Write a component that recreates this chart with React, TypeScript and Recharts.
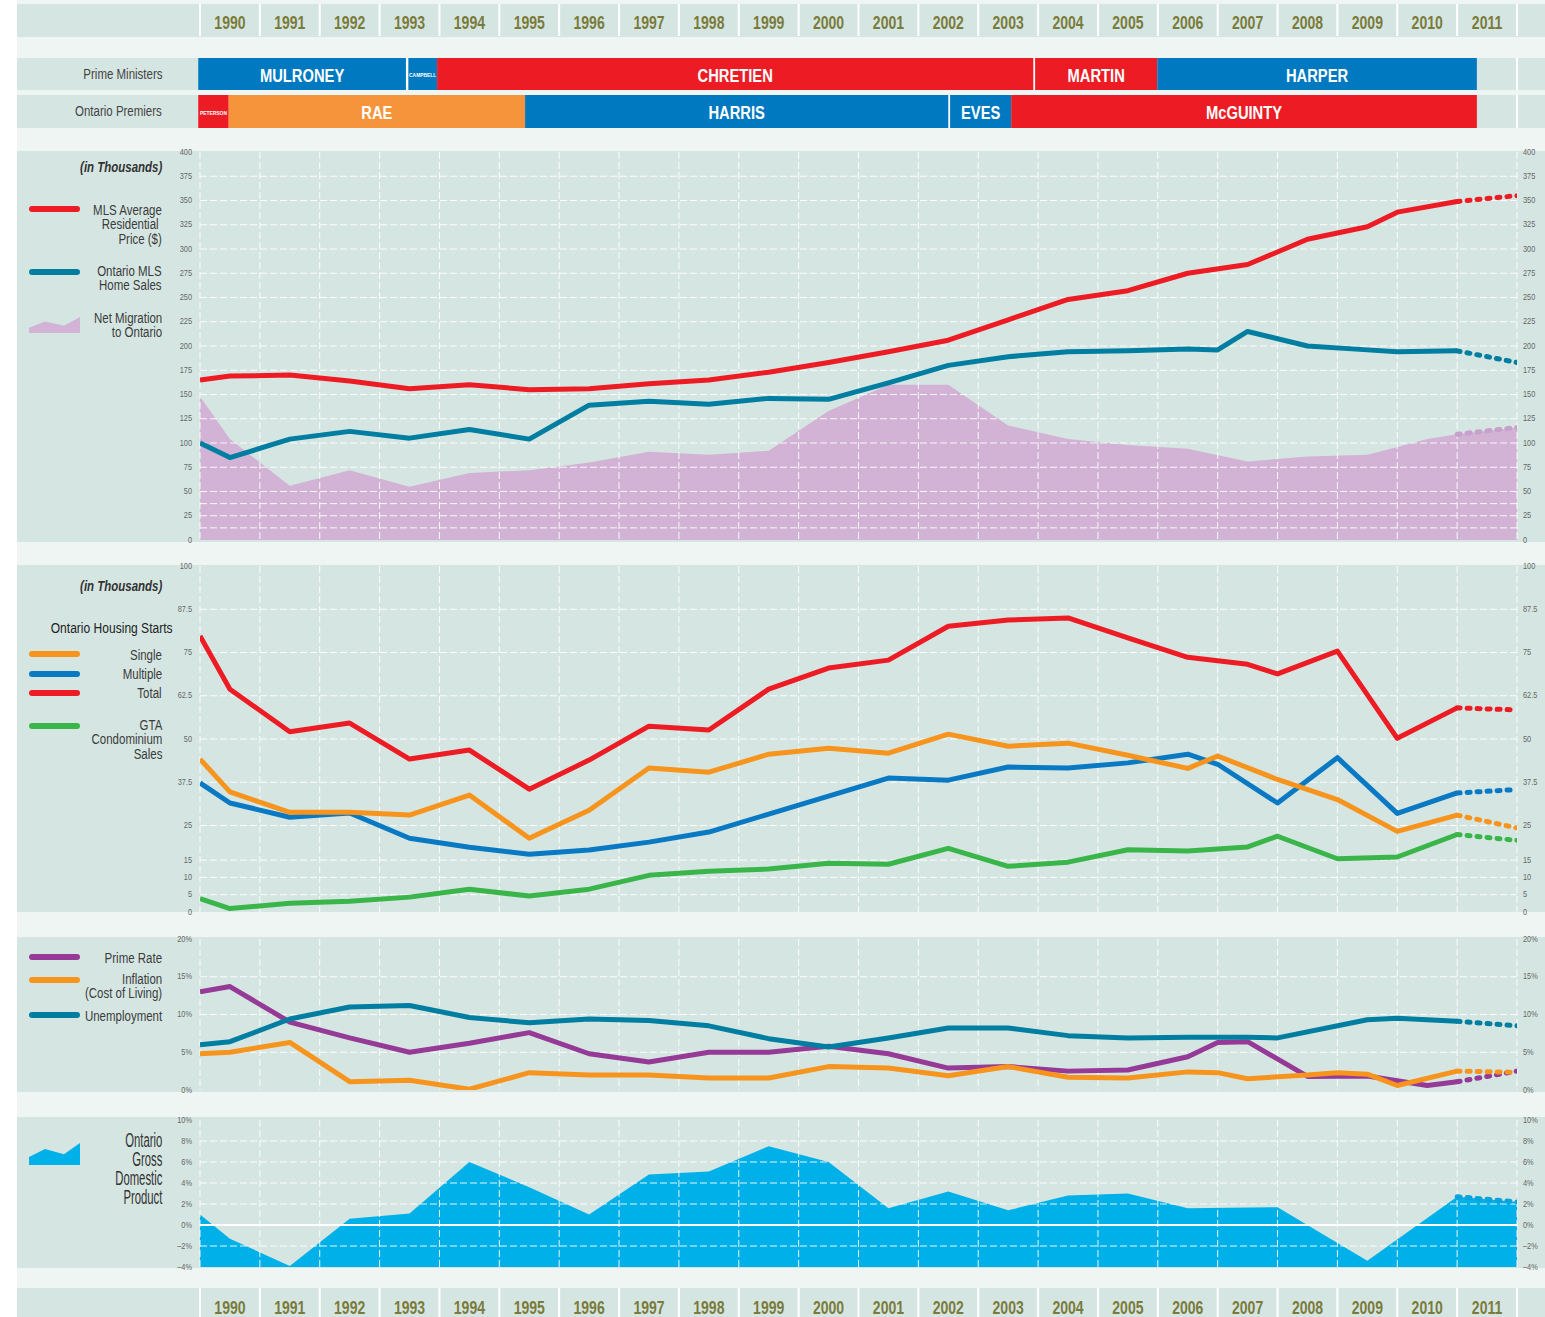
import React from "react";
import {
  Area,
  CartesianGrid,
  ComposedChart,
  Line,
  ReferenceArea,
  ReferenceLine,
  XAxis,
  YAxis,
} from "recharts";

// Liberation Sans squeezed horizontally stands in for the condensed face of the original
const FONT = "'Liberation Sans', Arial, sans-serif";
const NARROW = 0.82;
const PAGE_W = 1545;
const PAGE_H = 1317;
const PLOT_L = 200;
const PLOT_R = 1517;
const AXIS_W = 24;
const PAD = 10;

const PAGE_BG = "#eef5f2";
const PANEL_BG = "#d5e6e2";
const YEAR_COLOR = "#7a7b3b";
const TICK_COLOR = "#666";
const TEXT_COLOR = "#3b3b3b";

const RED = "#ed1c24";
const TEAL = "#007ea1";
const BLUE = "#0a79c3";
const ORANGE = "#f7941d";
const GREEN = "#3ab54a";
const PURPLE = "#953a96";
const MIGRATION_FILL = "#d2b3d5";
const MIGRATION_DOT = "#c7a1cb";
const GDP_FILL = "#00b0e8";
const GDP_DOT = "#0aa3dc";

const PARTY_COLORS: Record<string, string> = {
  LIB: "#ed1c24",
  PC: "#0079c1",
  CON: "#0079c1",
  NDP: "#f6943b",
};

// ---- time axis ----
const YEARS = [
  1990, 1991, 1992, 1993, 1994, 1995, 1996, 1997, 1998, 1999, 2000,
  2001, 2002, 2003, 2004, 2005, 2006, 2007, 2008, 2009, 2010, 2011,
];
const YEAR_EDGES = [...YEARS, 2012];
const YEAR_CENTERS = YEARS.map((y) => y + 0.5);
const FORECAST_X = [2011, 2012];

// ---- terms of office ----
const PM_NAMES = ["MULRONEY", "CAMPBELL", "CHRETIEN", "MARTIN", "HARPER"];
const PM_FROM = [1989.97, 1993.48, 1993.96, 2003.95, 2005.99];
const PM_TO = [1993.44, 1993.96, 2003.92, 2005.99, 2011.33];
const PM_PARTY = ["PC", "PC", "LIB", "LIB", "CON"];

const PREMIER_NAMES = ["PETERSON", "RAE", "HARRIS", "EVES", "McGUINTY"];
const PREMIER_FROM = [1989.97, 1990.48, 1995.43, 2002.53, 2003.55];
const PREMIER_TO = [1990.48, 1995.43, 2002.5, 2003.55, 2011.33];
const PREMIER_PARTY = ["LIB", "NDP", "PC", "PC", "LIB"];

// ---- panel 1: prices, sales, migration (thousands) ----
const PRICE_X = [1990, 1990.5, 1991.5, 1992.5, 1993.5, 1994.5, 1995.5, 1996.5, 1997.5, 1998.5, 1999.5, 2000.5, 2001.5, 2002.5, 2003.5, 2004.5, 2005.5, 2006.5, 2007.5, 2008.5, 2009.5, 2010, 2011];
const PRICE = [165, 169, 170, 164, 156, 160, 155, 156, 161, 165, 173, 183, 194, 206, 227, 248, 257, 275, 284, 310, 323, 338, 349];
const PRICE_FORECAST = [349, 355];

const SALES_X = [1990, 1990.5, 1991.5, 1992.5, 1993.5, 1994.5, 1995.5, 1996.5, 1997.5, 1998.5, 1999.5, 2000.5, 2001.5, 2002.5, 2003.5, 2004.5, 2005.5, 2006.5, 2007, 2007.5, 2008.5, 2009.5, 2010, 2011];
const SALES = [100, 85, 104, 112, 105, 114, 104, 139, 143, 140, 146, 145, 162, 180, 189, 194, 195, 197, 196, 215, 200, 196, 194, 195];
const SALES_FORECAST = [195, 183];

const MIGRATION_X = [1990, 1990.5, 1991.5, 1992.5, 1993.5, 1994.5, 1995.5, 1996.5, 1997.5, 1998.5, 1999.5, 2000.5, 2001.5, 2002.5, 2003.5, 2004.5, 2005.5, 2006.5, 2007.5, 2008.5, 2009.5, 2010, 2010.5, 2011, 2012];
const MIGRATION = [148, 104, 56, 72, 55, 69, 72, 80, 91, 88, 92, 133, 160, 160, 118, 104, 98, 94, 81, 86, 88, 96, 104, 109, 116];
const MIGRATION_FORECAST = [109, 116];

// ---- panel 2: housing starts (thousands) ----
const TOTAL_X = [1990, 1990.5, 1991.5, 1992.5, 1993.5, 1994.5, 1995.5, 1996.5, 1997.5, 1998.5, 1999.5, 2000.5, 2001.5, 2002.5, 2003.5, 2004.5, 2005.5, 2006.5, 2007.5, 2008, 2009, 2010, 2011];
const TOTAL = [79.8, 64.4, 52.1, 54.6, 44.2, 46.8, 35.5, 43.9, 53.7, 52.6, 64.4, 70.5, 72.8, 82.6, 84.4, 85.0, 79.2, 73.6, 71.6, 68.8, 75.4, 50.2, 59.0];
const TOTAL_FORECAST = [59.0, 58.4];

const SINGLE_X = [1990, 1990.5, 1991.5, 1992.5, 1993.5, 1994.5, 1995.5, 1996.5, 1997.5, 1998.5, 1999.5, 2000.5, 2001.5, 2002.5, 2003.5, 2004.5, 2005.5, 2006.5, 2007, 2008, 2009, 2010, 2011];
const SINGLE = [44.2, 34.7, 28.8, 28.8, 28.0, 33.8, 21.3, 29.4, 41.6, 40.4, 45.6, 47.3, 45.9, 51.4, 47.9, 48.8, 45.3, 41.5, 45.1, 38.3, 32.5, 23.3, 28.0];
const SINGLE_FORECAST = [28.0, 24.3];

const MULTIPLE_X = [1990, 1990.5, 1991.5, 1992.5, 1993.5, 1994.5, 1995.5, 1996.5, 1997.5, 1998.5, 1999.5, 2000.5, 2001.5, 2002.5, 2003.5, 2004.5, 2005.5, 2006.5, 2007, 2008, 2009, 2010, 2011];
const MULTIPLE = [37.3, 31.5, 27.4, 28.6, 21.3, 18.7, 16.7, 17.9, 20.2, 23.1, 28.3, 33.5, 38.7, 38.1, 41.9, 41.6, 43.1, 45.6, 42.7, 31.5, 44.6, 28.5, 34.4];
const MULTIPLE_FORECAST = [34.4, 35.4];

const CONDO_X = [1990, 1990.5, 1991.5, 1992.5, 1993.5, 1994.5, 1995.5, 1996.5, 1997.5, 1998.5, 1999.5, 2000.5, 2001.5, 2002.5, 2003.5, 2004.5, 2005.5, 2006.5, 2007.5, 2008, 2009, 2010, 2011];
const CONDO = [3.9, 1.0, 2.5, 3.1, 4.3, 6.6, 4.6, 6.6, 10.6, 11.8, 12.4, 14.1, 13.8, 18.4, 13.2, 14.4, 18.0, 17.6, 18.8, 21.9, 15.4, 15.9, 22.4];
const CONDO_FORECAST = [22.4, 20.7];

// ---- panel 3: rates (%) ----
const PRIME_X = [1990, 1990.5, 1991.5, 1992.5, 1993.5, 1994.5, 1995.5, 1996.5, 1997.5, 1998.5, 1999.5, 2000.5, 2001.5, 2002.5, 2003.5, 2004.5, 2005.5, 2006.5, 2007, 2007.5, 2008.5, 2009.5, 2010.5, 2011];
const PRIME = [13.0, 13.7, 9.0, 6.9, 5.0, 6.2, 7.6, 4.8, 3.7, 5.0, 5.0, 5.8, 4.8, 2.9, 3.1, 2.5, 2.65, 4.4, 6.3, 6.4, 1.8, 1.85, 0.6, 1.1];
const PRIME_FORECAST = [1.1, 2.5];

const INFLATION_X = [1990, 1990.5, 1991.5, 1992.5, 1993.5, 1994.5, 1995.5, 1996.5, 1997.5, 1998.5, 1999.5, 2000.5, 2001.5, 2002.5, 2003.5, 2004.5, 2005.5, 2006.5, 2007, 2007.5, 2008.5, 2009, 2009.5, 2010, 2011];
const INFLATION = [4.8, 5.0, 6.3, 1.1, 1.3, 0.1, 2.3, 2.0, 2.0, 1.6, 1.6, 3.1, 2.9, 1.9, 3.1, 1.7, 1.6, 2.4, 2.3, 1.5, 2.0, 2.3, 2.1, 0.6, 2.5];
const INFLATION_FORECAST = [2.5, 2.35];

const UNEMP_X = [1990, 1990.5, 1991.5, 1992.5, 1993.5, 1994.5, 1995.5, 1996.5, 1997.5, 1998.5, 1999.5, 2000.5, 2001.5, 2002.5, 2003.5, 2004.5, 2005.5, 2006.5, 2007.5, 2008, 2009.5, 2010, 2011];
const UNEMP = [6.0, 6.4, 9.4, 11.0, 11.2, 9.6, 8.9, 9.4, 9.2, 8.5, 6.8, 5.7, 6.9, 8.2, 8.2, 7.2, 6.9, 7.0, 7.0, 6.9, 9.3, 9.5, 9.1];
const UNEMP_FORECAST = [9.1, 8.5];

// ---- panel 4: GDP growth (%) ----
const GDP_X = [1990, 1990.5, 1991.5, 1992.5, 1993.5, 1994.5, 1995.5, 1996.5, 1997.5, 1998.5, 1999.5, 2000.5, 2001.5, 2002.5, 2003.5, 2004.5, 2005.5, 2006.5, 2008, 2009.5, 2011, 2012];
const GDP = [1.0, -1.3, -3.9, 0.6, 1.1, 6.0, 3.6, 1.0, 4.8, 5.1, 7.5, 6.0, 1.6, 3.2, 1.4, 2.8, 3.0, 1.6, 1.7, -3.4, 2.7, 2.2];
const GDP_FORECAST = [2.7, 2.2];

// ---- axis ticks ----
const TICKS_1 = [0, 25, 50, 75, 100, 125, 150, 175, 200, 225, 250, 275, 300, 325, 350, 375, 400];
const GRID_1 = [12.5, 25, 37.5, 50, 75, 100, 125, 150, 175, 200, 225, 250, 275, 300, 325, 350, 375];
const TICKS_2 = [0, 5, 10, 15, 25, 37.5, 50, 62.5, 75, 87.5, 100];
const GRID_2 = [5, 10, 15, 25, 37.5, 50, 62.5, 75, 87.5];
const TICKS_3 = [0, 5, 10, 15, 20];
const GRID_3 = [5, 10, 15];
const TICKS_4 = [-4, -2, 0, 2, 4, 6, 8, 10];
const GRID_4 = [-2, 2, 4, 6, 8];

const pts = (xs: number[], ys: number[]) => xs.map((x, i) => ({ x, y: ys[i] }));
const plain = (v: number) => String(v);
const pct = (v: number) => (v < 0 ? `\u2013${-v}%` : `${v}%`);

const makeTick = (format: (v: number) => string) => (props: any) => (
  <text
    transform={`translate(${props.x},${props.y}) scale(${NARROW},1)`}
    textAnchor={props.textAnchor}
    dominantBaseline="central"
    fontSize={9}
    fill={TICK_COLOR}
    fontFamily={FONT}
  >
    {format(props.payload.value)}
  </text>
);

type PlotProps = {
  top: number;
  height: number;
  domain: [number, number];
  ticks: number[];
  format: (v: number) => string;
  withAxes?: boolean;
  children: React.ReactNode;
};

function Plot({ top, height, domain, ticks, format, withAxes = true, children }: PlotProps) {
  const side = withAxes ? AXIS_W : 0;
  const tick = makeTick(format);
  return (
    <div style={{ position: "absolute", left: 0, top: top - PAD }}>
      <ComposedChart
        width={PAGE_W}
        height={height + PAD * 2}
        margin={{ top: PAD, bottom: PAD, left: PLOT_L - side, right: PAGE_W - PLOT_R - side }}
      >
        <XAxis type="number" dataKey="x" domain={[1990, 2012]} ticks={YEAR_EDGES} hide allowDataOverflow />
        <YAxis
          domain={domain}
          ticks={ticks}
          hide={!withAxes}
          width={AXIS_W}
          axisLine={false}
          tickLine={false}
          tickSize={6}
          tickMargin={2}
          tick={tick}
          interval={0}
          allowDataOverflow
        />
        {withAxes && (
          <YAxis
            yAxisId="r"
            orientation="right"
            domain={domain}
            ticks={ticks}
            width={AXIS_W}
            axisLine={false}
            tickLine={false}
            tickSize={4}
            tickMargin={2}
            tick={tick}
            interval={0}
            allowDataOverflow
          />
        )}
        {children}
      </ComposedChart>
    </div>
  );
}

function Grid({ values }: { values: number[] }) {
  return (
    <CartesianGrid
      stroke="#ffffff"
      strokeOpacity={0.9}
      strokeDasharray="7 3"
      horizontalValues={values}
      verticalValues={YEAR_EDGES}
    />
  );
}

function solid(xs: number[], ys: number[], color: string, key: string) {
  return (
    <Line
      key={key}
      type="linear"
      data={pts(xs, ys)}
      dataKey="y"
      stroke={color}
      strokeWidth={5}
      strokeLinejoin="round"
      dot={false}
      activeDot={false}
      isAnimationActive={false}
    />
  );
}

function dotted(values: number[], color: string, key: string) {
  return (
    <Line
      key={key}
      type="linear"
      data={pts(FORECAST_X, values)}
      dataKey="y"
      stroke={color}
      strokeWidth={5}
      strokeDasharray="3 7"
      strokeLinecap="round"
      dot={false}
      activeDot={false}
      isAnimationActive={false}
    />
  );
}

function Panel({ top, height }: { top: number; height: number }) {
  return (
    <div style={{ position: "absolute", left: 17, top, width: PAGE_W - 17, height, background: PANEL_BG }} />
  );
}

type CaptionProps = {
  right?: number;
  y: number;
  lines: string[];
  size?: number;
  lh?: number;
  squeeze?: number;
  color?: string;
  style?: React.CSSProperties;
};

function Caption({ right = 162, y, lines, size = 14, lh = 14.5, squeeze = NARROW, color = TEXT_COLOR, style }: CaptionProps) {
  return (
    <div
      style={{
        position: "absolute",
        right: PAGE_W - right,
        top: y - lh / 2,
        fontSize: size,
        lineHeight: `${lh}px`,
        textAlign: "right",
        color,
        whiteSpace: "pre",
        fontFamily: FONT,
        transform: `scaleX(${squeeze})`,
        transformOrigin: "right center",
        ...style,
      }}
    >
      {lines.join("\n")}
    </div>
  );
}

function LineSwatch({ y, color }: { y: number; color: string }) {
  return (
    <div style={{ position: "absolute", left: 29, top: y - 3, width: 51, height: 6, borderRadius: 3, background: color }} />
  );
}

function AreaSwatch({ top, h, points, color }: { top: number; h: number; points: string; color: string }) {
  return (
    <svg style={{ position: "absolute", left: 29, top }} width={51} height={h}>
      <polygon points={points} fill={color} />
    </svg>
  );
}

function YearBand({ top, height, textY }: { top: number; height: number; textY: number }) {
  const renderTick = (props: any) => (
    <text
      transform={`translate(${props.x},${textY}) scale(0.78,1)`}
      textAnchor="middle"
      dominantBaseline="central"
      fill={YEAR_COLOR}
      fontSize={18}
      fontWeight={700}
      fontFamily={FONT}
    >
      {Math.floor(props.payload.value)}
    </text>
  );
  return (
    <>
      <Panel top={top} height={height} />
      <div style={{ position: "absolute", left: 0, top }}>
        <ComposedChart
          width={PAGE_W}
          height={height}
          margin={{ top: 0, bottom: 0, left: PLOT_L, right: PAGE_W - PLOT_R }}
        >
          <XAxis
            type="number"
            dataKey="x"
            domain={[1990, 2012]}
            ticks={YEAR_CENTERS}
            interval={0}
            height={1}
            axisLine={false}
            tickLine={false}
            tick={renderTick}
            allowDataOverflow
          />
          <YAxis hide domain={[0, 1]} allowDataOverflow />
          <CartesianGrid horizontal={false} verticalValues={YEAR_EDGES} stroke="#ffffff" strokeWidth={2} />
        </ComposedChart>
      </div>
    </>
  );
}

type TermRowProps = {
  top: number;
  height: number;
  label: string;
  names: string[];
  from: number[];
  to: number[];
  parties: string[];
};

function TermRow({ top, height, label, names, from, to, parties }: TermRowProps) {
  return (
    <>
      <Panel top={top} height={height} />
      <Caption y={top + height / 2} lines={[label]} color="#444" />
      <div style={{ position: "absolute", left: 0, top }}>
        <ComposedChart
          width={PAGE_W}
          height={height}
          margin={{ top: 0, bottom: 0, left: PLOT_L, right: PAGE_W - PLOT_R }}
        >
          <XAxis type="number" dataKey="x" domain={[1990, 2012]} hide allowDataOverflow />
          <YAxis type="number" hide domain={[0, 1]} allowDataOverflow />
          <CartesianGrid horizontal={false} verticalValues={YEAR_EDGES} stroke="#ffffff" strokeWidth={2} />
          <ReferenceArea
            x1={from[0]}
            x2={to[to.length - 1]}
            y1={0}
            y2={1}
            fill="#ffffff"
            fillOpacity={1}
            ifOverflow="visible"
          />
          {names.map((name, i) => {
            const small = to[i] - from[i] < 0.8;
            return (
              <ReferenceArea
                key={name}
                x1={from[i]}
                x2={to[i]}
                y1={0}
                y2={1}
                fill={PARTY_COLORS[parties[i]]}
                fillOpacity={1}
                ifOverflow="visible"
                label={{
                  content: (p: any) => {
                    const vb = p.viewBox || {};
                    return (
                      <text
                        transform={`translate(${vb.x + vb.width / 2},${vb.y + vb.height / 2 + 1}) scale(${NARROW},1)`}
                        textAnchor="middle"
                        dominantBaseline="central"
                        fill="#ffffff"
                        fontSize={small ? 6 : 18}
                        fontWeight={700}
                        fontFamily={FONT}
                      >
                        {name}
                      </text>
                    );
                  },
                }}
              />
            );
          })}
        </ComposedChart>
      </div>
    </>
  );
}

export default function App() {
  return (
    <div
      style={{
        position: "absolute",
        left: 0,
        top: 0,
        width: PAGE_W,
        height: PAGE_H,
        background: "#ffffff",
        overflow: "hidden",
        fontFamily: FONT,
      }}
    >
      <div style={{ position: "absolute", left: 17, top: 0, width: PAGE_W - 17, height: PAGE_H, background: PAGE_BG }} />

      <YearBand top={4} height={33} textY={18} />
      <TermRow top={58} height={32} label="Prime Ministers" names={PM_NAMES} from={PM_FROM} to={PM_TO} parties={PM_PARTY} />
      <TermRow top={95} height={33} label="Ontario Premiers" names={PREMIER_NAMES} from={PREMIER_FROM} to={PREMIER_TO} parties={PREMIER_PARTY} />

      {/* Panel 1 */}
      <Panel top={151} height={391} />
      <Caption y={167} lines={["(in Thousands)"]} style={{ fontStyle: "italic", fontWeight: 700, color: "#333" }} />
      <LineSwatch y={209} color={RED} />
      <Caption y={210} lines={["MLS Average", "Residential ", "Price ($)"]} />
      <LineSwatch y={272} color={TEAL} />
      <Caption y={271} lines={["Ontario MLS", "Home Sales"]} />
      <AreaSwatch top={316.5} h={16.2} points="0,10.8 16,4.5 35,8.8 51,0 51,16.2 0,16.2" color={MIGRATION_FILL} />
      <Caption y={318} lines={["Net Migration", "to Ontario"]} />
      <Plot top={152} height={388} domain={[0, 400]} ticks={TICKS_1} format={plain} withAxes={false}>
        <Area
          type="linear"
          data={pts(MIGRATION_X, MIGRATION)}
          dataKey="y"
          stroke="none"
          fill={MIGRATION_FILL}
          fillOpacity={1}
          isAnimationActive={false}
        />
      </Plot>
      <Plot top={152} height={388} domain={[0, 400]} ticks={TICKS_1} format={plain}>
        <Grid values={GRID_1} />
        {dotted(MIGRATION_FORECAST, MIGRATION_DOT, "mig-f")}
        {solid(SALES_X, SALES, TEAL, "sales")}
        {dotted(SALES_FORECAST, TEAL, "sales-f")}
        {solid(PRICE_X, PRICE, RED, "price")}
        {dotted(PRICE_FORECAST, RED, "price-f")}
      </Plot>

      {/* Panel 2 */}
      <Panel top={565} height={347} />
      <Caption y={586} lines={["(in Thousands)"]} style={{ fontStyle: "italic", fontWeight: 700, color: "#333" }} />
      <Caption right={173} y={628} lines={["Ontario Housing Starts"]} size={14.7} color="#222" />
      <LineSwatch y={654} color={ORANGE} />
      <Caption y={655.5} lines={["Single"]} />
      <LineSwatch y={674} color={BLUE} />
      <Caption y={674.5} lines={["Multiple"]} />
      <LineSwatch y={693} color={RED} />
      <Caption y={693.5} lines={["Total"]} />
      <LineSwatch y={726} color={GREEN} />
      <Caption y={725} lines={["GTA", "Condominium", "Sales"]} />
      <Plot top={566} height={346} domain={[0, 100]} ticks={TICKS_2} format={plain}>
        <Grid values={GRID_2} />
        {solid(CONDO_X, CONDO, GREEN, "condo")}
        {dotted(CONDO_FORECAST, GREEN, "condo-f")}
        {solid(MULTIPLE_X, MULTIPLE, BLUE, "multiple")}
        {dotted(MULTIPLE_FORECAST, BLUE, "multiple-f")}
        {solid(SINGLE_X, SINGLE, ORANGE, "single")}
        {dotted(SINGLE_FORECAST, ORANGE, "single-f")}
        {solid(TOTAL_X, TOTAL, RED, "total")}
        {dotted(TOTAL_FORECAST, RED, "total-f")}
      </Plot>

      {/* Panel 3 */}
      <Panel top={937} height={155} />
      <LineSwatch y={957} color={PURPLE} />
      <Caption y={958} lines={["Prime Rate"]} />
      <LineSwatch y={980} color={ORANGE} />
      <Caption y={979} lines={["Inflation", "(Cost of Living)"]} lh={14.7} />
      <LineSwatch y={1015} color={TEAL} />
      <Caption y={1016.5} lines={["Unemployment"]} />
      <Plot top={939} height={151} domain={[0, 20]} ticks={TICKS_3} format={pct}>
        <Grid values={GRID_3} />
        {solid(PRIME_X, PRIME, PURPLE, "prime")}
        {dotted(PRIME_FORECAST, PURPLE, "prime-f")}
        {solid(INFLATION_X, INFLATION, ORANGE, "infl")}
        {dotted(INFLATION_FORECAST, ORANGE, "infl-f")}
        {solid(UNEMP_X, UNEMP, TEAL, "unemp")}
        {dotted(UNEMP_FORECAST, TEAL, "unemp-f")}
      </Plot>

      {/* Panel 4 */}
      <Panel top={1117} height={151} />
      <AreaSwatch top={1142.7} h={22.3} points="0,14 16,6 35,11.3 51,0 51,22.3 0,22.3" color={GDP_FILL} />
      <Caption
        y={1140}
        lines={["Ontario", "Gross", "Domestic", "Product"]}
        size={20}
        lh={19}
        squeeze={0.565}
        color="#333"
      />
      <Plot top={1120} height={147} domain={[-4, 10]} ticks={TICKS_4} format={pct} withAxes={false}>
        <Area
          type="linear"
          data={pts(GDP_X, GDP)}
          dataKey="y"
          baseValue="dataMin"
          stroke="none"
          fill={GDP_FILL}
          fillOpacity={1}
          isAnimationActive={false}
        />
      </Plot>
      <Plot top={1120} height={147} domain={[-4, 10]} ticks={TICKS_4} format={pct}>
        <Grid values={GRID_4} />
        <ReferenceLine y={0} stroke="#ffffff" strokeWidth={2} />
        {dotted(GDP_FORECAST, GDP_DOT, "gdp-f")}
      </Plot>

      <YearBand top={1288} height={36} textY={19} />
    </div>
  );
}
